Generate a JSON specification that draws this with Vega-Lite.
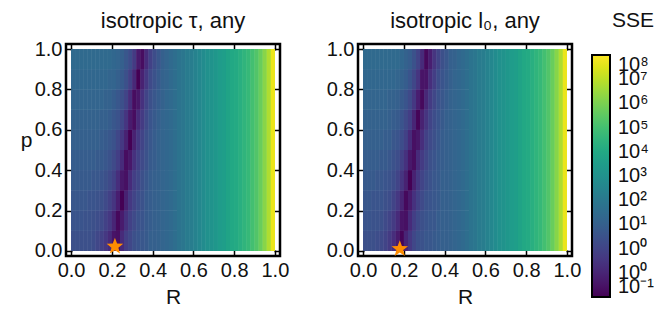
{
"$schema":"https://vega.github.io/schema/vega-lite/v6.json",
"padding":{"left":19,"top":8,"right":0,"bottom":0},
"config":{
"font":"Liberation Sans",
"view":{"stroke":"#000","strokeWidth":2.5},
"axis":{"labelFontSize":20,"labelColor":"#111","titleFontSize":21,"titleFontWeight":"normal","titleColor":"#111","domain":false,"grid":false,"tickColor":"#000","tickWidth":1.5,"tickSize":-6,"labelPadding":10},
"title":{"fontSize":22,"fontWeight":"normal","color":"#111","offset":6},
"concat":{"spacing":33}
},
"datasets":{
"a":[
{"r0":0,"r1":0.02,"p0":0,"p1":0.1,"c":24},{"r0":0.02,"r1":0.04,"p0":0,"p1":0.1,"c":24},{"r0":0.04,"r1":0.06,"p0":0,"p1":0.1,"c":24},{"r0":0.06,"r1":0.08,"p0":0,"p1":0.1,"c":24},{"r0":0.08,"r1":0.1,"p0":0,"p1":0.1,"c":24},{"r0":0.1,"r1":0.12,"p0":0,"p1":0.1,"c":23},{"r0":0.12,"r1":0.14,"p0":0,"p1":0.1,"c":21},{"r0":0.14,"r1":0.16,"p0":0,"p1":0.1,"c":19},{"r0":0.16,"r1":0.18,"p0":0,"p1":0.1,"c":16},{"r0":0.18,"r1":0.2,"p0":0,"p1":0.1,"c":12},{"r0":0.2,"r1":0.22,"p0":0,"p1":0.1,"c":5},{"r0":0.22,"r1":0.24,"p0":0,"p1":0.1,"c":4},{"r0":0.24,"r1":0.26,"p0":0,"p1":0.1,"c":12},{"r0":0.26,"r1":0.28,"p0":0,"p1":0.1,"c":18},{"r0":0.28,"r1":0.3,"p0":0,"p1":0.1,"c":21},{"r0":0.3,"r1":0.32,"p0":0,"p1":0.1,"c":24},{"r0":0.32,"r1":0.34,"p0":0,"p1":0.1,"c":26},{"r0":0.34,"r1":0.36,"p0":0,"p1":0.1,"c":27},{"r0":0.36,"r1":0.38,"p0":0,"p1":0.1,"c":28},{"r0":0.38,"r1":0.4,"p0":0,"p1":0.1,"c":30},{"r0":0.4,"r1":0.42,"p0":0,"p1":0.1,"c":30},{"r0":0.42,"r1":0.44,"p0":0,"p1":0.1,"c":31},{"r0":0.44,"r1":0.46,"p0":0,"p1":0.1,"c":32},{"r0":0.46,"r1":0.48,"p0":0,"p1":0.1,"c":33},{"r0":0.48,"r1":0.5,"p0":0,"p1":0.1,"c":34},{"r0":0.5,"r1":0.52,"p0":0,"p1":0.1,"c":36},
{"r0":0,"r1":0.02,"p0":0.1,"p1":0.2,"c":26},{"r0":0.02,"r1":0.04,"p0":0.1,"p1":0.2,"c":26},{"r0":0.04,"r1":0.06,"p0":0.1,"p1":0.2,"c":26},{"r0":0.06,"r1":0.08,"p0":0.1,"p1":0.2,"c":25},{"r0":0.08,"r1":0.1,"p0":0.1,"p1":0.2,"c":25},{"r0":0.1,"r1":0.12,"p0":0.1,"p1":0.2,"c":24},{"r0":0.12,"r1":0.14,"p0":0.1,"p1":0.2,"c":23},{"r0":0.14,"r1":0.16,"p0":0.1,"p1":0.2,"c":22},{"r0":0.16,"r1":0.18,"p0":0.1,"p1":0.2,"c":19},{"r0":0.18,"r1":0.2,"p0":0.1,"p1":0.2,"c":16},{"r0":0.2,"r1":0.22,"p0":0.1,"p1":0.2,"c":10},{"r0":0.22,"r1":0.24,"p0":0.1,"p1":0.2,"c":2},{"r0":0.24,"r1":0.26,"p0":0.1,"p1":0.2,"c":7},{"r0":0.26,"r1":0.28,"p0":0.1,"p1":0.2,"c":14},{"r0":0.28,"r1":0.3,"p0":0.1,"p1":0.2,"c":19},{"r0":0.3,"r1":0.32,"p0":0.1,"p1":0.2,"c":22},{"r0":0.32,"r1":0.34,"p0":0.1,"p1":0.2,"c":25},{"r0":0.34,"r1":0.36,"p0":0.1,"p1":0.2,"c":26},{"r0":0.36,"r1":0.38,"p0":0.1,"p1":0.2,"c":28},{"r0":0.38,"r1":0.4,"p0":0.1,"p1":0.2,"c":29},{"r0":0.4,"r1":0.42,"p0":0.1,"p1":0.2,"c":30},{"r0":0.42,"r1":0.44,"p0":0.1,"p1":0.2,"c":31},{"r0":0.44,"r1":0.46,"p0":0.1,"p1":0.2,"c":32},{"r0":0.46,"r1":0.48,"p0":0.1,"p1":0.2,"c":33},{"r0":0.48,"r1":0.5,"p0":0.1,"p1":0.2,"c":34},{"r0":0.5,"r1":0.52,"p0":0.1,"p1":0.2,"c":36},
{"r0":0,"r1":0.02,"p0":0.2,"p1":0.3,"c":27},{"r0":0.02,"r1":0.04,"p0":0.2,"p1":0.3,"c":27},{"r0":0.04,"r1":0.06,"p0":0.2,"p1":0.3,"c":27},{"r0":0.06,"r1":0.08,"p0":0.2,"p1":0.3,"c":27},{"r0":0.08,"r1":0.1,"p0":0.2,"p1":0.3,"c":26},{"r0":0.1,"r1":0.12,"p0":0.2,"p1":0.3,"c":26},{"r0":0.12,"r1":0.14,"p0":0.2,"p1":0.3,"c":25},{"r0":0.14,"r1":0.16,"p0":0.2,"p1":0.3,"c":24},{"r0":0.16,"r1":0.18,"p0":0.2,"p1":0.3,"c":22},{"r0":0.18,"r1":0.2,"p0":0.2,"p1":0.3,"c":19},{"r0":0.2,"r1":0.22,"p0":0.2,"p1":0.3,"c":15},{"r0":0.22,"r1":0.24,"p0":0.2,"p1":0.3,"c":8},{"r0":0.24,"r1":0.26,"p0":0.2,"p1":0.3,"c":0},{"r0":0.26,"r1":0.28,"p0":0.2,"p1":0.3,"c":9},{"r0":0.28,"r1":0.3,"p0":0.2,"p1":0.3,"c":16},{"r0":0.3,"r1":0.32,"p0":0.2,"p1":0.3,"c":20},{"r0":0.32,"r1":0.34,"p0":0.2,"p1":0.3,"c":23},{"r0":0.34,"r1":0.36,"p0":0.2,"p1":0.3,"c":25},{"r0":0.36,"r1":0.38,"p0":0.2,"p1":0.3,"c":28},{"r0":0.38,"r1":0.4,"p0":0.2,"p1":0.3,"c":29},{"r0":0.4,"r1":0.42,"p0":0.2,"p1":0.3,"c":30},{"r0":0.42,"r1":0.44,"p0":0.2,"p1":0.3,"c":31},{"r0":0.44,"r1":0.46,"p0":0.2,"p1":0.3,"c":32},{"r0":0.46,"r1":0.48,"p0":0.2,"p1":0.3,"c":33},{"r0":0.48,"r1":0.5,"p0":0.2,"p1":0.3,"c":34},{"r0":0.5,"r1":0.52,"p0":0.2,"p1":0.3,"c":36},
{"r0":0,"r1":0.02,"p0":0.3,"p1":0.4,"c":28},{"r0":0.02,"r1":0.04,"p0":0.3,"p1":0.4,"c":28},{"r0":0.04,"r1":0.06,"p0":0.3,"p1":0.4,"c":28},{"r0":0.06,"r1":0.08,"p0":0.3,"p1":0.4,"c":28},{"r0":0.08,"r1":0.1,"p0":0.3,"p1":0.4,"c":28},{"r0":0.1,"r1":0.12,"p0":0.3,"p1":0.4,"c":27},{"r0":0.12,"r1":0.14,"p0":0.3,"p1":0.4,"c":27},{"r0":0.14,"r1":0.16,"p0":0.3,"p1":0.4,"c":26},{"r0":0.16,"r1":0.18,"p0":0.3,"p1":0.4,"c":24},{"r0":0.18,"r1":0.2,"p0":0.3,"p1":0.4,"c":22},{"r0":0.2,"r1":0.22,"p0":0.3,"p1":0.4,"c":19},{"r0":0.22,"r1":0.24,"p0":0.3,"p1":0.4,"c":13},{"r0":0.24,"r1":0.26,"p0":0.3,"p1":0.4,"c":6},{"r0":0.26,"r1":0.28,"p0":0.3,"p1":0.4,"c":4},{"r0":0.28,"r1":0.3,"p0":0.3,"p1":0.4,"c":12},{"r0":0.3,"r1":0.32,"p0":0.3,"p1":0.4,"c":18},{"r0":0.32,"r1":0.34,"p0":0.3,"p1":0.4,"c":21},{"r0":0.34,"r1":0.36,"p0":0.3,"p1":0.4,"c":24},{"r0":0.36,"r1":0.38,"p0":0.3,"p1":0.4,"c":27},{"r0":0.38,"r1":0.4,"p0":0.3,"p1":0.4,"c":29},{"r0":0.4,"r1":0.42,"p0":0.3,"p1":0.4,"c":30},{"r0":0.42,"r1":0.44,"p0":0.3,"p1":0.4,"c":31},{"r0":0.44,"r1":0.46,"p0":0.3,"p1":0.4,"c":32},{"r0":0.46,"r1":0.48,"p0":0.3,"p1":0.4,"c":33},{"r0":0.48,"r1":0.5,"p0":0.3,"p1":0.4,"c":34},{"r0":0.5,"r1":0.52,"p0":0.3,"p1":0.4,"c":36},
{"r0":0,"r1":0.02,"p0":0.4,"p1":0.5,"c":29},{"r0":0.02,"r1":0.04,"p0":0.4,"p1":0.5,"c":29},{"r0":0.04,"r1":0.06,"p0":0.4,"p1":0.5,"c":29},{"r0":0.06,"r1":0.08,"p0":0.4,"p1":0.5,"c":29},{"r0":0.08,"r1":0.1,"p0":0.4,"p1":0.5,"c":29},{"r0":0.1,"r1":0.12,"p0":0.4,"p1":0.5,"c":29},{"r0":0.12,"r1":0.14,"p0":0.4,"p1":0.5,"c":28},{"r0":0.14,"r1":0.16,"p0":0.4,"p1":0.5,"c":28},{"r0":0.16,"r1":0.18,"p0":0.4,"p1":0.5,"c":27},{"r0":0.18,"r1":0.2,"p0":0.4,"p1":0.5,"c":25},{"r0":0.2,"r1":0.22,"p0":0.4,"p1":0.5,"c":22},{"r0":0.22,"r1":0.24,"p0":0.4,"p1":0.5,"c":18},{"r0":0.24,"r1":0.26,"p0":0.4,"p1":0.5,"c":12},{"r0":0.26,"r1":0.28,"p0":0.4,"p1":0.5,"c":3},{"r0":0.28,"r1":0.3,"p0":0.4,"p1":0.5,"c":6},{"r0":0.3,"r1":0.32,"p0":0.4,"p1":0.5,"c":14},{"r0":0.32,"r1":0.34,"p0":0.4,"p1":0.5,"c":19},{"r0":0.34,"r1":0.36,"p0":0.4,"p1":0.5,"c":22},{"r0":0.36,"r1":0.38,"p0":0.4,"p1":0.5,"c":25},{"r0":0.38,"r1":0.4,"p0":0.4,"p1":0.5,"c":28},{"r0":0.4,"r1":0.42,"p0":0.4,"p1":0.5,"c":29},{"r0":0.42,"r1":0.44,"p0":0.4,"p1":0.5,"c":31},{"r0":0.44,"r1":0.46,"p0":0.4,"p1":0.5,"c":32},{"r0":0.46,"r1":0.48,"p0":0.4,"p1":0.5,"c":33},{"r0":0.48,"r1":0.5,"p0":0.4,"p1":0.5,"c":34},{"r0":0.5,"r1":0.52,"p0":0.4,"p1":0.5,"c":36},
{"r0":0,"r1":0.02,"p0":0.5,"p1":0.6,"c":30},{"r0":0.02,"r1":0.04,"p0":0.5,"p1":0.6,"c":30},{"r0":0.04,"r1":0.06,"p0":0.5,"p1":0.6,"c":30},{"r0":0.06,"r1":0.08,"p0":0.5,"p1":0.6,"c":30},{"r0":0.08,"r1":0.1,"p0":0.5,"p1":0.6,"c":30},{"r0":0.1,"r1":0.12,"p0":0.5,"p1":0.6,"c":30},{"r0":0.12,"r1":0.14,"p0":0.5,"p1":0.6,"c":30},{"r0":0.14,"r1":0.16,"p0":0.5,"p1":0.6,"c":29},{"r0":0.16,"r1":0.18,"p0":0.5,"p1":0.6,"c":28},{"r0":0.18,"r1":0.2,"p0":0.5,"p1":0.6,"c":27},{"r0":0.2,"r1":0.22,"p0":0.5,"p1":0.6,"c":25},{"r0":0.22,"r1":0.24,"p0":0.5,"p1":0.6,"c":21},{"r0":0.24,"r1":0.26,"p0":0.5,"p1":0.6,"c":16},{"r0":0.26,"r1":0.28,"p0":0.5,"p1":0.6,"c":9},{"r0":0.28,"r1":0.3,"p0":0.5,"p1":0.6,"c":0},{"r0":0.3,"r1":0.32,"p0":0.5,"p1":0.6,"c":9},{"r0":0.32,"r1":0.34,"p0":0.5,"p1":0.6,"c":16},{"r0":0.34,"r1":0.36,"p0":0.5,"p1":0.6,"c":20},{"r0":0.36,"r1":0.38,"p0":0.5,"p1":0.6,"c":24},{"r0":0.38,"r1":0.4,"p0":0.5,"p1":0.6,"c":27},{"r0":0.4,"r1":0.42,"p0":0.5,"p1":0.6,"c":29},{"r0":0.42,"r1":0.44,"p0":0.5,"p1":0.6,"c":31},{"r0":0.44,"r1":0.46,"p0":0.5,"p1":0.6,"c":32},{"r0":0.46,"r1":0.48,"p0":0.5,"p1":0.6,"c":33},{"r0":0.48,"r1":0.5,"p0":0.5,"p1":0.6,"c":34},{"r0":0.5,"r1":0.52,"p0":0.5,"p1":0.6,"c":36},
{"r0":0,"r1":0.02,"p0":0.6,"p1":0.7,"c":31},{"r0":0.02,"r1":0.04,"p0":0.6,"p1":0.7,"c":31},{"r0":0.04,"r1":0.06,"p0":0.6,"p1":0.7,"c":31},{"r0":0.06,"r1":0.08,"p0":0.6,"p1":0.7,"c":31},{"r0":0.08,"r1":0.1,"p0":0.6,"p1":0.7,"c":31},{"r0":0.1,"r1":0.12,"p0":0.6,"p1":0.7,"c":31},{"r0":0.12,"r1":0.14,"p0":0.6,"p1":0.7,"c":31},{"r0":0.14,"r1":0.16,"p0":0.6,"p1":0.7,"c":30},{"r0":0.16,"r1":0.18,"p0":0.6,"p1":0.7,"c":30},{"r0":0.18,"r1":0.2,"p0":0.6,"p1":0.7,"c":29},{"r0":0.2,"r1":0.22,"p0":0.6,"p1":0.7,"c":27},{"r0":0.22,"r1":0.24,"p0":0.6,"p1":0.7,"c":25},{"r0":0.24,"r1":0.26,"p0":0.6,"p1":0.7,"c":21},{"r0":0.26,"r1":0.28,"p0":0.6,"p1":0.7,"c":15},{"r0":0.28,"r1":0.3,"p0":0.6,"p1":0.7,"c":7},{"r0":0.3,"r1":0.32,"p0":0.6,"p1":0.7,"c":3},{"r0":0.32,"r1":0.34,"p0":0.6,"p1":0.7,"c":12},{"r0":0.34,"r1":0.36,"p0":0.6,"p1":0.7,"c":17},{"r0":0.36,"r1":0.38,"p0":0.6,"p1":0.7,"c":22},{"r0":0.38,"r1":0.4,"p0":0.6,"p1":0.7,"c":26},{"r0":0.4,"r1":0.42,"p0":0.6,"p1":0.7,"c":28},{"r0":0.42,"r1":0.44,"p0":0.6,"p1":0.7,"c":30},{"r0":0.44,"r1":0.46,"p0":0.6,"p1":0.7,"c":32},{"r0":0.46,"r1":0.48,"p0":0.6,"p1":0.7,"c":33},{"r0":0.48,"r1":0.5,"p0":0.6,"p1":0.7,"c":34},{"r0":0.5,"r1":0.52,"p0":0.6,"p1":0.7,"c":36},
{"r0":0,"r1":0.02,"p0":0.7,"p1":0.8,"c":32},{"r0":0.02,"r1":0.04,"p0":0.7,"p1":0.8,"c":32},{"r0":0.04,"r1":0.06,"p0":0.7,"p1":0.8,"c":32},{"r0":0.06,"r1":0.08,"p0":0.7,"p1":0.8,"c":32},{"r0":0.08,"r1":0.1,"p0":0.7,"p1":0.8,"c":32},{"r0":0.1,"r1":0.12,"p0":0.7,"p1":0.8,"c":32},{"r0":0.12,"r1":0.14,"p0":0.7,"p1":0.8,"c":32},{"r0":0.14,"r1":0.16,"p0":0.7,"p1":0.8,"c":32},{"r0":0.16,"r1":0.18,"p0":0.7,"p1":0.8,"c":31},{"r0":0.18,"r1":0.2,"p0":0.7,"p1":0.8,"c":31},{"r0":0.2,"r1":0.22,"p0":0.7,"p1":0.8,"c":29},{"r0":0.22,"r1":0.24,"p0":0.7,"p1":0.8,"c":27},{"r0":0.24,"r1":0.26,"p0":0.7,"p1":0.8,"c":24},{"r0":0.26,"r1":0.28,"p0":0.7,"p1":0.8,"c":20},{"r0":0.28,"r1":0.3,"p0":0.7,"p1":0.8,"c":13},{"r0":0.3,"r1":0.32,"p0":0.7,"p1":0.8,"c":3},{"r0":0.32,"r1":0.34,"p0":0.7,"p1":0.8,"c":6},{"r0":0.34,"r1":0.36,"p0":0.7,"p1":0.8,"c":14},{"r0":0.36,"r1":0.38,"p0":0.7,"p1":0.8,"c":20},{"r0":0.38,"r1":0.4,"p0":0.7,"p1":0.8,"c":24},{"r0":0.4,"r1":0.42,"p0":0.7,"p1":0.8,"c":27},{"r0":0.42,"r1":0.44,"p0":0.7,"p1":0.8,"c":29},{"r0":0.44,"r1":0.46,"p0":0.7,"p1":0.8,"c":31},{"r0":0.46,"r1":0.48,"p0":0.7,"p1":0.8,"c":33},{"r0":0.48,"r1":0.5,"p0":0.7,"p1":0.8,"c":34},{"r0":0.5,"r1":0.52,"p0":0.7,"p1":0.8,"c":36},
{"r0":0,"r1":0.02,"p0":0.8,"p1":0.9,"c":33},{"r0":0.02,"r1":0.04,"p0":0.8,"p1":0.9,"c":33},{"r0":0.04,"r1":0.06,"p0":0.8,"p1":0.9,"c":33},{"r0":0.06,"r1":0.08,"p0":0.8,"p1":0.9,"c":33},{"r0":0.08,"r1":0.1,"p0":0.8,"p1":0.9,"c":33},{"r0":0.1,"r1":0.12,"p0":0.8,"p1":0.9,"c":33},{"r0":0.12,"r1":0.14,"p0":0.8,"p1":0.9,"c":33},{"r0":0.14,"r1":0.16,"p0":0.8,"p1":0.9,"c":33},{"r0":0.16,"r1":0.18,"p0":0.8,"p1":0.9,"c":33},{"r0":0.18,"r1":0.2,"p0":0.8,"p1":0.9,"c":32},{"r0":0.2,"r1":0.22,"p0":0.8,"p1":0.9,"c":32},{"r0":0.22,"r1":0.24,"p0":0.8,"p1":0.9,"c":30},{"r0":0.24,"r1":0.26,"p0":0.8,"p1":0.9,"c":28},{"r0":0.26,"r1":0.28,"p0":0.8,"p1":0.9,"c":24},{"r0":0.28,"r1":0.3,"p0":0.8,"p1":0.9,"c":19},{"r0":0.3,"r1":0.32,"p0":0.8,"p1":0.9,"c":11},{"r0":0.32,"r1":0.34,"p0":0.8,"p1":0.9,"c":0},{"r0":0.34,"r1":0.36,"p0":0.8,"p1":0.9,"c":9},{"r0":0.36,"r1":0.38,"p0":0.8,"p1":0.9,"c":16},{"r0":0.38,"r1":0.4,"p0":0.8,"p1":0.9,"c":22},{"r0":0.4,"r1":0.42,"p0":0.8,"p1":0.9,"c":25},{"r0":0.42,"r1":0.44,"p0":0.8,"p1":0.9,"c":28},{"r0":0.44,"r1":0.46,"p0":0.8,"p1":0.9,"c":31},{"r0":0.46,"r1":0.48,"p0":0.8,"p1":0.9,"c":32},{"r0":0.48,"r1":0.5,"p0":0.8,"p1":0.9,"c":34},{"r0":0.5,"r1":0.52,"p0":0.8,"p1":0.9,"c":36},
{"r0":0,"r1":0.02,"p0":0.9,"p1":1,"c":34},{"r0":0.02,"r1":0.04,"p0":0.9,"p1":1,"c":34},{"r0":0.04,"r1":0.06,"p0":0.9,"p1":1,"c":34},{"r0":0.06,"r1":0.08,"p0":0.9,"p1":1,"c":34},{"r0":0.08,"r1":0.1,"p0":0.9,"p1":1,"c":34},{"r0":0.1,"r1":0.12,"p0":0.9,"p1":1,"c":34},{"r0":0.12,"r1":0.14,"p0":0.9,"p1":1,"c":34},{"r0":0.14,"r1":0.16,"p0":0.9,"p1":1,"c":34},{"r0":0.16,"r1":0.18,"p0":0.9,"p1":1,"c":34},{"r0":0.18,"r1":0.2,"p0":0.9,"p1":1,"c":34},{"r0":0.2,"r1":0.22,"p0":0.9,"p1":1,"c":33},{"r0":0.22,"r1":0.24,"p0":0.9,"p1":1,"c":32},{"r0":0.24,"r1":0.26,"p0":0.9,"p1":1,"c":30},{"r0":0.26,"r1":0.28,"p0":0.9,"p1":1,"c":27},{"r0":0.28,"r1":0.3,"p0":0.9,"p1":1,"c":23},{"r0":0.3,"r1":0.32,"p0":0.9,"p1":1,"c":17},{"r0":0.32,"r1":0.34,"p0":0.9,"p1":1,"c":7},{"r0":0.34,"r1":0.36,"p0":0.9,"p1":1,"c":3},{"r0":0.36,"r1":0.38,"p0":0.9,"p1":1,"c":12},{"r0":0.38,"r1":0.4,"p0":0.9,"p1":1,"c":19},{"r0":0.4,"r1":0.42,"p0":0.9,"p1":1,"c":23},{"r0":0.42,"r1":0.44,"p0":0.9,"p1":1,"c":27},{"r0":0.44,"r1":0.46,"p0":0.9,"p1":1,"c":30},{"r0":0.46,"r1":0.48,"p0":0.9,"p1":1,"c":32},{"r0":0.48,"r1":0.5,"p0":0.9,"p1":1,"c":34},{"r0":0.5,"r1":0.52,"p0":0.9,"p1":1,"c":36},
{"r0":0.52,"r1":0.54,"p0":0,"p1":1,"c":38},{"r0":0.54,"r1":0.56,"p0":0,"p1":1,"c":39},{"r0":0.56,"r1":0.58,"p0":0,"p1":1,"c":41},{"r0":0.58,"r1":0.6,"p0":0,"p1":1,"c":42},{"r0":0.6,"r1":0.62,"p0":0,"p1":1,"c":44},{"r0":0.62,"r1":0.64,"p0":0,"p1":1,"c":46},{"r0":0.64,"r1":0.66,"p0":0,"p1":1,"c":48},{"r0":0.66,"r1":0.68,"p0":0,"p1":1,"c":50},{"r0":0.68,"r1":0.7,"p0":0,"p1":1,"c":51},{"r0":0.7,"r1":0.72,"p0":0,"p1":1,"c":53},{"r0":0.72,"r1":0.74,"p0":0,"p1":1,"c":55},{"r0":0.74,"r1":0.76,"p0":0,"p1":1,"c":56},{"r0":0.76,"r1":0.78,"p0":0,"p1":1,"c":58},{"r0":0.78,"r1":0.8,"p0":0,"p1":1,"c":60},{"r0":0.8,"r1":0.82,"p0":0,"p1":1,"c":61},{"r0":0.82,"r1":0.84,"p0":0,"p1":1,"c":63},{"r0":0.84,"r1":0.86,"p0":0,"p1":1,"c":65},{"r0":0.86,"r1":0.88,"p0":0,"p1":1,"c":67},{"r0":0.88,"r1":0.9,"p0":0,"p1":1,"c":70},{"r0":0.9,"r1":0.92,"p0":0,"p1":1,"c":73},{"r0":0.92,"r1":0.94,"p0":0,"p1":1,"c":77},{"r0":0.94,"r1":0.96,"p0":0,"p1":1,"c":82},{"r0":0.96,"r1":0.98,"p0":0,"p1":1,"c":88},{"r0":0.98,"r1":1,"p0":0,"p1":1,"c":97}
],
"b":[
{"r0":0,"r1":0.02,"p0":0,"p1":0.1,"c":24},{"r0":0.02,"r1":0.04,"p0":0,"p1":0.1,"c":24},{"r0":0.04,"r1":0.06,"p0":0,"p1":0.1,"c":24},{"r0":0.06,"r1":0.08,"p0":0,"p1":0.1,"c":23},{"r0":0.08,"r1":0.1,"p0":0,"p1":0.1,"c":22},{"r0":0.1,"r1":0.12,"p0":0,"p1":0.1,"c":20},{"r0":0.12,"r1":0.14,"p0":0,"p1":0.1,"c":17},{"r0":0.14,"r1":0.16,"p0":0,"p1":0.1,"c":13},{"r0":0.16,"r1":0.18,"p0":0,"p1":0.1,"c":7},{"r0":0.18,"r1":0.2,"p0":0,"p1":0.1,"c":1},{"r0":0.2,"r1":0.22,"p0":0,"p1":0.1,"c":10},{"r0":0.22,"r1":0.24,"p0":0,"p1":0.1,"c":16},{"r0":0.24,"r1":0.26,"p0":0,"p1":0.1,"c":21},{"r0":0.26,"r1":0.28,"p0":0,"p1":0.1,"c":24},{"r0":0.28,"r1":0.3,"p0":0,"p1":0.1,"c":25},{"r0":0.3,"r1":0.32,"p0":0,"p1":0.1,"c":27},{"r0":0.32,"r1":0.34,"p0":0,"p1":0.1,"c":27},{"r0":0.34,"r1":0.36,"p0":0,"p1":0.1,"c":28},{"r0":0.36,"r1":0.38,"p0":0,"p1":0.1,"c":29},{"r0":0.38,"r1":0.4,"p0":0,"p1":0.1,"c":30},{"r0":0.4,"r1":0.42,"p0":0,"p1":0.1,"c":30},{"r0":0.42,"r1":0.44,"p0":0,"p1":0.1,"c":31},{"r0":0.44,"r1":0.46,"p0":0,"p1":0.1,"c":32},{"r0":0.46,"r1":0.48,"p0":0,"p1":0.1,"c":33},{"r0":0.48,"r1":0.5,"p0":0,"p1":0.1,"c":34},{"r0":0.5,"r1":0.52,"p0":0,"p1":0.1,"c":36},
{"r0":0,"r1":0.02,"p0":0.1,"p1":0.2,"c":26},{"r0":0.02,"r1":0.04,"p0":0.1,"p1":0.2,"c":26},{"r0":0.04,"r1":0.06,"p0":0.1,"p1":0.2,"c":25},{"r0":0.06,"r1":0.08,"p0":0.1,"p1":0.2,"c":25},{"r0":0.08,"r1":0.1,"p0":0.1,"p1":0.2,"c":24},{"r0":0.1,"r1":0.12,"p0":0.1,"p1":0.2,"c":22},{"r0":0.12,"r1":0.14,"p0":0.1,"p1":0.2,"c":20},{"r0":0.14,"r1":0.16,"p0":0.1,"p1":0.2,"c":17},{"r0":0.16,"r1":0.18,"p0":0.1,"p1":0.2,"c":12},{"r0":0.18,"r1":0.2,"p0":0.1,"p1":0.2,"c":5},{"r0":0.2,"r1":0.22,"p0":0.1,"p1":0.2,"c":4},{"r0":0.22,"r1":0.24,"p0":0.1,"p1":0.2,"c":12},{"r0":0.24,"r1":0.26,"p0":0.1,"p1":0.2,"c":18},{"r0":0.26,"r1":0.28,"p0":0.1,"p1":0.2,"c":22},{"r0":0.28,"r1":0.3,"p0":0.1,"p1":0.2,"c":24},{"r0":0.3,"r1":0.32,"p0":0.1,"p1":0.2,"c":26},{"r0":0.32,"r1":0.34,"p0":0.1,"p1":0.2,"c":27},{"r0":0.34,"r1":0.36,"p0":0.1,"p1":0.2,"c":27},{"r0":0.36,"r1":0.38,"p0":0.1,"p1":0.2,"c":29},{"r0":0.38,"r1":0.4,"p0":0.1,"p1":0.2,"c":30},{"r0":0.4,"r1":0.42,"p0":0.1,"p1":0.2,"c":30},{"r0":0.42,"r1":0.44,"p0":0.1,"p1":0.2,"c":31},{"r0":0.44,"r1":0.46,"p0":0.1,"p1":0.2,"c":32},{"r0":0.46,"r1":0.48,"p0":0.1,"p1":0.2,"c":33},{"r0":0.48,"r1":0.5,"p0":0.1,"p1":0.2,"c":34},{"r0":0.5,"r1":0.52,"p0":0.1,"p1":0.2,"c":36},
{"r0":0,"r1":0.02,"p0":0.2,"p1":0.3,"c":27},{"r0":0.02,"r1":0.04,"p0":0.2,"p1":0.3,"c":27},{"r0":0.04,"r1":0.06,"p0":0.2,"p1":0.3,"c":26},{"r0":0.06,"r1":0.08,"p0":0.2,"p1":0.3,"c":26},{"r0":0.08,"r1":0.1,"p0":0.2,"p1":0.3,"c":26},{"r0":0.1,"r1":0.12,"p0":0.2,"p1":0.3,"c":24},{"r0":0.12,"r1":0.14,"p0":0.2,"p1":0.3,"c":23},{"r0":0.14,"r1":0.16,"p0":0.2,"p1":0.3,"c":20},{"r0":0.16,"r1":0.18,"p0":0.2,"p1":0.3,"c":16},{"r0":0.18,"r1":0.2,"p0":0.2,"p1":0.3,"c":10},{"r0":0.2,"r1":0.22,"p0":0.2,"p1":0.3,"c":2},{"r0":0.22,"r1":0.24,"p0":0.2,"p1":0.3,"c":7},{"r0":0.24,"r1":0.26,"p0":0.2,"p1":0.3,"c":14},{"r0":0.26,"r1":0.28,"p0":0.2,"p1":0.3,"c":19},{"r0":0.28,"r1":0.3,"p0":0.2,"p1":0.3,"c":22},{"r0":0.3,"r1":0.32,"p0":0.2,"p1":0.3,"c":25},{"r0":0.32,"r1":0.34,"p0":0.2,"p1":0.3,"c":26},{"r0":0.34,"r1":0.36,"p0":0.2,"p1":0.3,"c":27},{"r0":0.36,"r1":0.38,"p0":0.2,"p1":0.3,"c":28},{"r0":0.38,"r1":0.4,"p0":0.2,"p1":0.3,"c":30},{"r0":0.4,"r1":0.42,"p0":0.2,"p1":0.3,"c":30},{"r0":0.42,"r1":0.44,"p0":0.2,"p1":0.3,"c":31},{"r0":0.44,"r1":0.46,"p0":0.2,"p1":0.3,"c":32},{"r0":0.46,"r1":0.48,"p0":0.2,"p1":0.3,"c":33},{"r0":0.48,"r1":0.5,"p0":0.2,"p1":0.3,"c":34},{"r0":0.5,"r1":0.52,"p0":0.2,"p1":0.3,"c":36},
{"r0":0,"r1":0.02,"p0":0.3,"p1":0.4,"c":28},{"r0":0.02,"r1":0.04,"p0":0.3,"p1":0.4,"c":28},{"r0":0.04,"r1":0.06,"p0":0.3,"p1":0.4,"c":28},{"r0":0.06,"r1":0.08,"p0":0.3,"p1":0.4,"c":27},{"r0":0.08,"r1":0.1,"p0":0.3,"p1":0.4,"c":27},{"r0":0.1,"r1":0.12,"p0":0.3,"p1":0.4,"c":26},{"r0":0.12,"r1":0.14,"p0":0.3,"p1":0.4,"c":25},{"r0":0.14,"r1":0.16,"p0":0.3,"p1":0.4,"c":23},{"r0":0.16,"r1":0.18,"p0":0.3,"p1":0.4,"c":20},{"r0":0.18,"r1":0.2,"p0":0.3,"p1":0.4,"c":15},{"r0":0.2,"r1":0.22,"p0":0.3,"p1":0.4,"c":9},{"r0":0.22,"r1":0.24,"p0":0.3,"p1":0.4,"c":0},{"r0":0.24,"r1":0.26,"p0":0.3,"p1":0.4,"c":9},{"r0":0.26,"r1":0.28,"p0":0.3,"p1":0.4,"c":16},{"r0":0.28,"r1":0.3,"p0":0.3,"p1":0.4,"c":20},{"r0":0.3,"r1":0.32,"p0":0.3,"p1":0.4,"c":23},{"r0":0.32,"r1":0.34,"p0":0.3,"p1":0.4,"c":25},{"r0":0.34,"r1":0.36,"p0":0.3,"p1":0.4,"c":27},{"r0":0.36,"r1":0.38,"p0":0.3,"p1":0.4,"c":28},{"r0":0.38,"r1":0.4,"p0":0.3,"p1":0.4,"c":30},{"r0":0.4,"r1":0.42,"p0":0.3,"p1":0.4,"c":30},{"r0":0.42,"r1":0.44,"p0":0.3,"p1":0.4,"c":31},{"r0":0.44,"r1":0.46,"p0":0.3,"p1":0.4,"c":32},{"r0":0.46,"r1":0.48,"p0":0.3,"p1":0.4,"c":33},{"r0":0.48,"r1":0.5,"p0":0.3,"p1":0.4,"c":34},{"r0":0.5,"r1":0.52,"p0":0.3,"p1":0.4,"c":36},
{"r0":0,"r1":0.02,"p0":0.4,"p1":0.5,"c":29},{"r0":0.02,"r1":0.04,"p0":0.4,"p1":0.5,"c":29},{"r0":0.04,"r1":0.06,"p0":0.4,"p1":0.5,"c":29},{"r0":0.06,"r1":0.08,"p0":0.4,"p1":0.5,"c":29},{"r0":0.08,"r1":0.1,"p0":0.4,"p1":0.5,"c":28},{"r0":0.1,"r1":0.12,"p0":0.4,"p1":0.5,"c":28},{"r0":0.12,"r1":0.14,"p0":0.4,"p1":0.5,"c":27},{"r0":0.14,"r1":0.16,"p0":0.4,"p1":0.5,"c":25},{"r0":0.16,"r1":0.18,"p0":0.4,"p1":0.5,"c":23},{"r0":0.18,"r1":0.2,"p0":0.4,"p1":0.5,"c":19},{"r0":0.2,"r1":0.22,"p0":0.4,"p1":0.5,"c":14},{"r0":0.22,"r1":0.24,"p0":0.4,"p1":0.5,"c":6},{"r0":0.24,"r1":0.26,"p0":0.4,"p1":0.5,"c":3},{"r0":0.26,"r1":0.28,"p0":0.4,"p1":0.5,"c":12},{"r0":0.28,"r1":0.3,"p0":0.4,"p1":0.5,"c":17},{"r0":0.3,"r1":0.32,"p0":0.4,"p1":0.5,"c":21},{"r0":0.32,"r1":0.34,"p0":0.4,"p1":0.5,"c":24},{"r0":0.34,"r1":0.36,"p0":0.4,"p1":0.5,"c":26},{"r0":0.36,"r1":0.38,"p0":0.4,"p1":0.5,"c":28},{"r0":0.38,"r1":0.4,"p0":0.4,"p1":0.5,"c":29},{"r0":0.4,"r1":0.42,"p0":0.4,"p1":0.5,"c":30},{"r0":0.42,"r1":0.44,"p0":0.4,"p1":0.5,"c":31},{"r0":0.44,"r1":0.46,"p0":0.4,"p1":0.5,"c":32},{"r0":0.46,"r1":0.48,"p0":0.4,"p1":0.5,"c":33},{"r0":0.48,"r1":0.5,"p0":0.4,"p1":0.5,"c":34},{"r0":0.5,"r1":0.52,"p0":0.4,"p1":0.5,"c":36},
{"r0":0,"r1":0.02,"p0":0.5,"p1":0.6,"c":30},{"r0":0.02,"r1":0.04,"p0":0.5,"p1":0.6,"c":30},{"r0":0.04,"r1":0.06,"p0":0.5,"p1":0.6,"c":30},{"r0":0.06,"r1":0.08,"p0":0.5,"p1":0.6,"c":30},{"r0":0.08,"r1":0.1,"p0":0.5,"p1":0.6,"c":30},{"r0":0.1,"r1":0.12,"p0":0.5,"p1":0.6,"c":29},{"r0":0.12,"r1":0.14,"p0":0.5,"p1":0.6,"c":29},{"r0":0.14,"r1":0.16,"p0":0.5,"p1":0.6,"c":27},{"r0":0.16,"r1":0.18,"p0":0.5,"p1":0.6,"c":26},{"r0":0.18,"r1":0.2,"p0":0.5,"p1":0.6,"c":23},{"r0":0.2,"r1":0.22,"p0":0.5,"p1":0.6,"c":19},{"r0":0.22,"r1":0.24,"p0":0.5,"p1":0.6,"c":12},{"r0":0.24,"r1":0.26,"p0":0.5,"p1":0.6,"c":4},{"r0":0.26,"r1":0.28,"p0":0.5,"p1":0.6,"c":6},{"r0":0.28,"r1":0.3,"p0":0.5,"p1":0.6,"c":13},{"r0":0.3,"r1":0.32,"p0":0.5,"p1":0.6,"c":19},{"r0":0.32,"r1":0.34,"p0":0.5,"p1":0.6,"c":22},{"r0":0.34,"r1":0.36,"p0":0.5,"p1":0.6,"c":24},{"r0":0.36,"r1":0.38,"p0":0.5,"p1":0.6,"c":27},{"r0":0.38,"r1":0.4,"p0":0.5,"p1":0.6,"c":29},{"r0":0.4,"r1":0.42,"p0":0.5,"p1":0.6,"c":30},{"r0":0.42,"r1":0.44,"p0":0.5,"p1":0.6,"c":31},{"r0":0.44,"r1":0.46,"p0":0.5,"p1":0.6,"c":32},{"r0":0.46,"r1":0.48,"p0":0.5,"p1":0.6,"c":33},{"r0":0.48,"r1":0.5,"p0":0.5,"p1":0.6,"c":34},{"r0":0.5,"r1":0.52,"p0":0.5,"p1":0.6,"c":36},
{"r0":0,"r1":0.02,"p0":0.6,"p1":0.7,"c":31},{"r0":0.02,"r1":0.04,"p0":0.6,"p1":0.7,"c":31},{"r0":0.04,"r1":0.06,"p0":0.6,"p1":0.7,"c":31},{"r0":0.06,"r1":0.08,"p0":0.6,"p1":0.7,"c":31},{"r0":0.08,"r1":0.1,"p0":0.6,"p1":0.7,"c":31},{"r0":0.1,"r1":0.12,"p0":0.6,"p1":0.7,"c":31},{"r0":0.12,"r1":0.14,"p0":0.6,"p1":0.7,"c":30},{"r0":0.14,"r1":0.16,"p0":0.6,"p1":0.7,"c":29},{"r0":0.16,"r1":0.18,"p0":0.6,"p1":0.7,"c":28},{"r0":0.18,"r1":0.2,"p0":0.6,"p1":0.7,"c":26},{"r0":0.2,"r1":0.22,"p0":0.6,"p1":0.7,"c":22},{"r0":0.22,"r1":0.24,"p0":0.6,"p1":0.7,"c":18},{"r0":0.24,"r1":0.26,"p0":0.6,"p1":0.7,"c":10},{"r0":0.26,"r1":0.28,"p0":0.6,"p1":0.7,"c":1},{"r0":0.28,"r1":0.3,"p0":0.6,"p1":0.7,"c":9},{"r0":0.3,"r1":0.32,"p0":0.6,"p1":0.7,"c":15},{"r0":0.32,"r1":0.34,"p0":0.6,"p1":0.7,"c":20},{"r0":0.34,"r1":0.36,"p0":0.6,"p1":0.7,"c":23},{"r0":0.36,"r1":0.38,"p0":0.6,"p1":0.7,"c":26},{"r0":0.38,"r1":0.4,"p0":0.6,"p1":0.7,"c":28},{"r0":0.4,"r1":0.42,"p0":0.6,"p1":0.7,"c":30},{"r0":0.42,"r1":0.44,"p0":0.6,"p1":0.7,"c":31},{"r0":0.44,"r1":0.46,"p0":0.6,"p1":0.7,"c":32},{"r0":0.46,"r1":0.48,"p0":0.6,"p1":0.7,"c":33},{"r0":0.48,"r1":0.5,"p0":0.6,"p1":0.7,"c":34},{"r0":0.5,"r1":0.52,"p0":0.6,"p1":0.7,"c":36},
{"r0":0,"r1":0.02,"p0":0.7,"p1":0.8,"c":32},{"r0":0.02,"r1":0.04,"p0":0.7,"p1":0.8,"c":32},{"r0":0.04,"r1":0.06,"p0":0.7,"p1":0.8,"c":32},{"r0":0.06,"r1":0.08,"p0":0.7,"p1":0.8,"c":32},{"r0":0.08,"r1":0.1,"p0":0.7,"p1":0.8,"c":32},{"r0":0.1,"r1":0.12,"p0":0.7,"p1":0.8,"c":32},{"r0":0.12,"r1":0.14,"p0":0.7,"p1":0.8,"c":31},{"r0":0.14,"r1":0.16,"p0":0.7,"p1":0.8,"c":31},{"r0":0.16,"r1":0.18,"p0":0.7,"p1":0.8,"c":30},{"r0":0.18,"r1":0.2,"p0":0.7,"p1":0.8,"c":28},{"r0":0.2,"r1":0.22,"p0":0.7,"p1":0.8,"c":26},{"r0":0.22,"r1":0.24,"p0":0.7,"p1":0.8,"c":22},{"r0":0.24,"r1":0.26,"p0":0.7,"p1":0.8,"c":16},{"r0":0.26,"r1":0.28,"p0":0.7,"p1":0.8,"c":8},{"r0":0.28,"r1":0.3,"p0":0.7,"p1":0.8,"c":2},{"r0":0.3,"r1":0.32,"p0":0.7,"p1":0.8,"c":11},{"r0":0.32,"r1":0.34,"p0":0.7,"p1":0.8,"c":17},{"r0":0.34,"r1":0.36,"p0":0.7,"p1":0.8,"c":21},{"r0":0.36,"r1":0.38,"p0":0.7,"p1":0.8,"c":25},{"r0":0.38,"r1":0.4,"p0":0.7,"p1":0.8,"c":27},{"r0":0.4,"r1":0.42,"p0":0.7,"p1":0.8,"c":29},{"r0":0.42,"r1":0.44,"p0":0.7,"p1":0.8,"c":31},{"r0":0.44,"r1":0.46,"p0":0.7,"p1":0.8,"c":32},{"r0":0.46,"r1":0.48,"p0":0.7,"p1":0.8,"c":33},{"r0":0.48,"r1":0.5,"p0":0.7,"p1":0.8,"c":34},{"r0":0.5,"r1":0.52,"p0":0.7,"p1":0.8,"c":36},
{"r0":0,"r1":0.02,"p0":0.8,"p1":0.9,"c":33},{"r0":0.02,"r1":0.04,"p0":0.8,"p1":0.9,"c":33},{"r0":0.04,"r1":0.06,"p0":0.8,"p1":0.9,"c":33},{"r0":0.06,"r1":0.08,"p0":0.8,"p1":0.9,"c":33},{"r0":0.08,"r1":0.1,"p0":0.8,"p1":0.9,"c":33},{"r0":0.1,"r1":0.12,"p0":0.8,"p1":0.9,"c":33},{"r0":0.12,"r1":0.14,"p0":0.8,"p1":0.9,"c":33},{"r0":0.14,"r1":0.16,"p0":0.8,"p1":0.9,"c":33},{"r0":0.16,"r1":0.18,"p0":0.8,"p1":0.9,"c":32},{"r0":0.18,"r1":0.2,"p0":0.8,"p1":0.9,"c":31},{"r0":0.2,"r1":0.22,"p0":0.8,"p1":0.9,"c":29},{"r0":0.22,"r1":0.24,"p0":0.8,"p1":0.9,"c":26},{"r0":0.24,"r1":0.26,"p0":0.8,"p1":0.9,"c":21},{"r0":0.26,"r1":0.28,"p0":0.8,"p1":0.9,"c":15},{"r0":0.28,"r1":0.3,"p0":0.8,"p1":0.9,"c":5},{"r0":0.3,"r1":0.32,"p0":0.8,"p1":0.9,"c":5},{"r0":0.32,"r1":0.34,"p0":0.8,"p1":0.9,"c":13},{"r0":0.34,"r1":0.36,"p0":0.8,"p1":0.9,"c":18},{"r0":0.36,"r1":0.38,"p0":0.8,"p1":0.9,"c":23},{"r0":0.38,"r1":0.4,"p0":0.8,"p1":0.9,"c":26},{"r0":0.4,"r1":0.42,"p0":0.8,"p1":0.9,"c":28},{"r0":0.42,"r1":0.44,"p0":0.8,"p1":0.9,"c":30},{"r0":0.44,"r1":0.46,"p0":0.8,"p1":0.9,"c":32},{"r0":0.46,"r1":0.48,"p0":0.8,"p1":0.9,"c":33},{"r0":0.48,"r1":0.5,"p0":0.8,"p1":0.9,"c":34},{"r0":0.5,"r1":0.52,"p0":0.8,"p1":0.9,"c":36},
{"r0":0,"r1":0.02,"p0":0.9,"p1":1,"c":34},{"r0":0.02,"r1":0.04,"p0":0.9,"p1":1,"c":34},{"r0":0.04,"r1":0.06,"p0":0.9,"p1":1,"c":34},{"r0":0.06,"r1":0.08,"p0":0.9,"p1":1,"c":34},{"r0":0.08,"r1":0.1,"p0":0.9,"p1":1,"c":34},{"r0":0.1,"r1":0.12,"p0":0.9,"p1":1,"c":34},{"r0":0.12,"r1":0.14,"p0":0.9,"p1":1,"c":34},{"r0":0.14,"r1":0.16,"p0":0.9,"p1":1,"c":34},{"r0":0.16,"r1":0.18,"p0":0.9,"p1":1,"c":34},{"r0":0.18,"r1":0.2,"p0":0.9,"p1":1,"c":33},{"r0":0.2,"r1":0.22,"p0":0.9,"p1":1,"c":31},{"r0":0.22,"r1":0.24,"p0":0.9,"p1":1,"c":29},{"r0":0.24,"r1":0.26,"p0":0.9,"p1":1,"c":25},{"r0":0.26,"r1":0.28,"p0":0.9,"p1":1,"c":20},{"r0":0.28,"r1":0.3,"p0":0.9,"p1":1,"c":12},{"r0":0.3,"r1":0.32,"p0":0.9,"p1":1,"c":2},{"r0":0.32,"r1":0.34,"p0":0.9,"p1":1,"c":8},{"r0":0.34,"r1":0.36,"p0":0.9,"p1":1,"c":15},{"r0":0.36,"r1":0.38,"p0":0.9,"p1":1,"c":20},{"r0":0.38,"r1":0.4,"p0":0.9,"p1":1,"c":24},{"r0":0.4,"r1":0.42,"p0":0.9,"p1":1,"c":27},{"r0":0.42,"r1":0.44,"p0":0.9,"p1":1,"c":30},{"r0":0.44,"r1":0.46,"p0":0.9,"p1":1,"c":31},{"r0":0.46,"r1":0.48,"p0":0.9,"p1":1,"c":33},{"r0":0.48,"r1":0.5,"p0":0.9,"p1":1,"c":34},{"r0":0.5,"r1":0.52,"p0":0.9,"p1":1,"c":36},
{"r0":0.52,"r1":0.54,"p0":0,"p1":1,"c":38},{"r0":0.54,"r1":0.56,"p0":0,"p1":1,"c":39},{"r0":0.56,"r1":0.58,"p0":0,"p1":1,"c":41},{"r0":0.58,"r1":0.6,"p0":0,"p1":1,"c":42},{"r0":0.6,"r1":0.62,"p0":0,"p1":1,"c":44},{"r0":0.62,"r1":0.64,"p0":0,"p1":1,"c":46},{"r0":0.64,"r1":0.66,"p0":0,"p1":1,"c":48},{"r0":0.66,"r1":0.68,"p0":0,"p1":1,"c":50},{"r0":0.68,"r1":0.7,"p0":0,"p1":1,"c":51},{"r0":0.7,"r1":0.72,"p0":0,"p1":1,"c":53},{"r0":0.72,"r1":0.74,"p0":0,"p1":1,"c":55},{"r0":0.74,"r1":0.76,"p0":0,"p1":1,"c":56},{"r0":0.76,"r1":0.78,"p0":0,"p1":1,"c":58},{"r0":0.78,"r1":0.8,"p0":0,"p1":1,"c":60},{"r0":0.8,"r1":0.82,"p0":0,"p1":1,"c":61},{"r0":0.82,"r1":0.84,"p0":0,"p1":1,"c":63},{"r0":0.84,"r1":0.86,"p0":0,"p1":1,"c":65},{"r0":0.86,"r1":0.88,"p0":0,"p1":1,"c":67},{"r0":0.88,"r1":0.9,"p0":0,"p1":1,"c":70},{"r0":0.9,"r1":0.92,"p0":0,"p1":1,"c":73},{"r0":0.92,"r1":0.94,"p0":0,"p1":1,"c":77},{"r0":0.94,"r1":0.96,"p0":0,"p1":1,"c":82},{"r0":0.96,"r1":0.98,"p0":0,"p1":1,"c":88},{"r0":0.98,"r1":1,"p0":0,"p1":1,"c":97}
]
},
"hconcat":[
{
"width":214,"height":212,
"title":"isotropic τ, any",
"layer":[
{"data":{"name":"a"},
"mark":"rect",
"encoding":{
"x":{"field":"r0","type":"quantitative","scale":{"domain":[-0.025,1.025],"nice":false,"zero":false},"axis":{"title":"R","values":[0,0.2,0.4,0.6,0.8,1],"format":".1f","titlePadding":6}},
"x2":{"field":"r1"},
"y":{"field":"p0","type":"quantitative","scale":{"domain":[-0.025,1.025],"nice":false,"zero":false},"axis":{"title":"p","titleAngle":0,"values":[0,0.2,0.4,0.6,0.8,1],"format":".1f","titlePadding":8}},
"y2":{"field":"p1"},
"color":{"field":"c","type":"quantitative","scale":{"scheme":"viridis","domain":[0,100]},
"legend":{"type":"gradient","title":"SSE","orient":"none","legendX":526,"legendY":-34,"direction":"vertical","gradientLength":242,"gradientThickness":18,"gradientStrokeColor":"#000","gradientStrokeWidth":2,"values":[0,10,20,30,40,50,60,70,80,90,100],"labelExpr":"datum.value==0?'10⁻¹':datum.value<=20?'10⁰':datum.value==30?'10¹':datum.value==40?'10²':datum.value==50?'10³':datum.value==60?'10⁴':datum.value==70?'10⁵':datum.value==80?'10⁶':datum.value==90?'10⁷':'10⁸'","labelFontSize":20,"labelColor":"#111","labelOffset":8,"labelOverlap":false,"titleFontSize":21,"titleFontWeight":"normal","titleColor":"#111","titlePadding":24,"titleAnchor":"end"}}
}},
{"data":{"name":"a"},
"mark":"rect",
"encoding":{
"x":{"field":"r0","type":"quantitative","axis":null},
"x2":{"field":"r1"},
"y":{"field":"p0","type":"quantitative","axis":null},
"y2":{"field":"p1"},
"color":{"field":"c","type":"quantitative"}
}},
{"data":{"values":[{"R":0.215,"p":0.022}]},
"mark":{"type":"point","shape":"M0,-1L0.247,-0.34L0.951,-0.309L0.399,0.13L0.588,0.809L0,0.42L-0.588,0.809L-0.399,0.13L-0.951,-0.309L-0.247,-0.34Z","filled":true,"color":"#ff8c00","opacity":1,"size":300},
"encoding":{"x":{"field":"R","type":"quantitative","axis":{"orient":"top","title":null,"labels":false,"values":[0,0.2,0.4,0.6,0.8,1]}},"y":{"field":"p","type":"quantitative","axis":{"orient":"right","title":null,"labels":false,"values":[0,0.2,0.4,0.6,0.8,1]}}}}
],
"resolve":{"axis":{"x":"independent","y":"independent"}}
},
{
"width":214,"height":212,
"title":"isotropic l₀, any",
"layer":[
{"data":{"name":"b"},
"mark":"rect",
"encoding":{
"x":{"field":"r0","type":"quantitative","scale":{"domain":[-0.025,1.025],"nice":false,"zero":false},"axis":{"title":"R","values":[0,0.2,0.4,0.6,0.8,1],"format":".1f","titlePadding":6}},
"x2":{"field":"r1"},
"y":{"field":"p0","type":"quantitative","scale":{"domain":[-0.025,1.025],"nice":false,"zero":false},"axis":{"title":null,"values":[0,0.2,0.4,0.6,0.8,1],"format":".1f"}},
"y2":{"field":"p1"},
"color":{"field":"c","type":"quantitative"}
}},
{"data":{"name":"b"},
"mark":"rect",
"encoding":{
"x":{"field":"r0","type":"quantitative","axis":null},
"x2":{"field":"r1"},
"y":{"field":"p0","type":"quantitative","axis":null},
"y2":{"field":"p1"},
"color":{"field":"c","type":"quantitative"}
}},
{"data":{"values":[{"R":0.18,"p":0.01}]},
"mark":{"type":"point","shape":"M0,-1L0.247,-0.34L0.951,-0.309L0.399,0.13L0.588,0.809L0,0.42L-0.588,0.809L-0.399,0.13L-0.951,-0.309L-0.247,-0.34Z","filled":true,"color":"#ff8c00","opacity":1,"size":300},
"encoding":{"x":{"field":"R","type":"quantitative","axis":{"orient":"top","title":null,"labels":false,"values":[0,0.2,0.4,0.6,0.8,1]}},"y":{"field":"p","type":"quantitative","axis":{"orient":"right","title":null,"labels":false,"values":[0,0.2,0.4,0.6,0.8,1]}}}}
],
"resolve":{"axis":{"x":"independent","y":"independent"}}
}
]
}
